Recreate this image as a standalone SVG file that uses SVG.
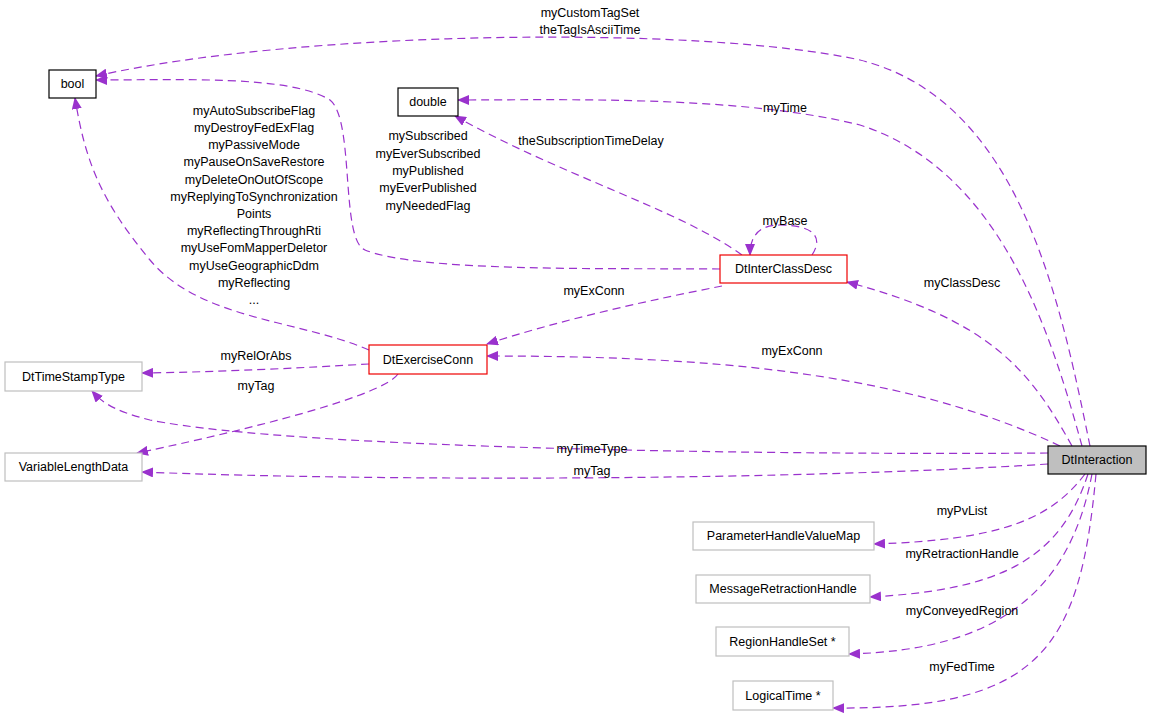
<svg xmlns="http://www.w3.org/2000/svg" width="1152" height="718" viewBox="0 0 1152 718">
<style>
text{font-family:"Liberation Sans",Arial,sans-serif;font-size:12.5px;fill:#000}
.n{fill:#fff;stroke:#000;stroke-width:1.2}
.r{fill:#fff;stroke:#e00;stroke-width:1.2}
.g{fill:#fff;stroke:#bfbfbf;stroke-width:1.2}
.e path{fill:none;stroke:#9a32cd;stroke-width:1.2;stroke-dasharray:8,5}
.m text{text-anchor:middle}
</style>
<defs><marker id="a" markerWidth="12" markerHeight="10" refX="11" refY="5" orient="auto" markerUnits="userSpaceOnUse"><path d="M0,0 L12,5 L0,10z" fill="#9a32cd"/></marker></defs>
<rect width="1152" height="718" fill="#fff"/>
<g class="e">
<path marker-end="url(#a)" d="M1090,446 C1060,300 1020,100 860,60 C700,25 300,30 96,76"/>
<path marker-end="url(#a)" d="M1082,446 C1050,330 1000,170 860,125 C740,95 560,100 458,100"/>
<path marker-end="url(#a)" d="M1072,446 C1030,370 990,320 847,282"/>
<path marker-end="url(#a)" d="M1060,446 C900,370 700,356 487,356"/>
<path marker-end="url(#a)" d="M1048,453 C800,455 300,450 150,420 C110,410 100,400 92,391"/>
<path marker-end="url(#a)" d="M1048,464 C800,480 400,482 142,472"/>
<path marker-end="url(#a)" d="M1085,474 C1050,520 1000,540 874,544"/>
<path marker-end="url(#a)" d="M1088,474 C1060,560 1000,590 870,597"/>
<path marker-end="url(#a)" d="M1092,474 C1070,590 1000,650 849,654"/>
<path marker-end="url(#a)" d="M1096,474 C1080,650 1040,710 833,708"/>
<path marker-end="url(#a)" d="M720,269 C600,268 420,272 365,250 C340,240 355,120 330,100 C290,75 180,80 96,80"/>
<path marker-end="url(#a)" d="M742,255 C680,210 560,175 455,116"/>
<path marker-end="url(#a)" d="M812,255 C825,235 810,225 780,225 C760,225 750,235 750,255"/>
<path marker-end="url(#a)" d="M722,286 C650,300 560,320 487,344"/>
<path marker-end="url(#a)" d="M369,350 C300,320 200,320 150,260 C100,200 85,160 75,98"/>
<path marker-end="url(#a)" d="M369,364 C300,368 220,372 142,373"/>
<path marker-end="url(#a)" d="M398,374 C380,400 200,440 137,453"/>
</g>
<g class="m">
<text x="590" y="17">myCustomTagSet</text><text x="590" y="34">theTagIsAsciiTime</text>
<text x="785" y="112">myTime</text>
<text x="591" y="145">theSubscriptionTimeDelay</text>
<text x="428" y="140">mySubscribed</text><text x="428" y="158">myEverSubscribed</text><text x="428" y="175">myPublished</text><text x="428" y="192">myEverPublished</text><text x="428" y="210">myNeededFlag</text>
<text x="254" y="115">myAutoSubscribeFlag</text><text x="254" y="132">myDestroyFedExFlag</text><text x="254" y="149">myPassiveMode</text><text x="254" y="166">myPauseOnSaveRestore</text><text x="254" y="184">myDeleteOnOutOfScope</text><text x="254" y="201">myReplyingToSynchronization</text><text x="254" y="218">Points</text><text x="254" y="235">myReflectingThroughRti</text><text x="254" y="252">myUseFomMapperDeletor</text><text x="254" y="270">myUseGeographicDdm</text><text x="254" y="287">myReflecting</text><text x="254" y="304">...</text>
<text x="785" y="225">myBase</text>
<text x="594" y="295">myExConn</text>
<text x="962" y="287">myClassDesc</text>
<text x="792" y="355">myExConn</text>
<text x="256" y="360">myRelOrAbs</text>
<text x="256" y="390">myTag</text>
<text x="592" y="453">myTimeType</text>
<text x="592" y="475">myTag</text>
<text x="962" y="515">myPvList</text>
<text x="962" y="558">myRetractionHandle</text>
<text x="962" y="615">myConveyedRegion</text>
<text x="962" y="671">myFedTime</text>
</g>
<g id="bool"><rect class="n" x="49" y="70" width="47" height="28"/><text x="72.5" y="88" text-anchor="middle">bool</text></g>
<g id="double"><rect class="n" x="398" y="88" width="60" height="28"/><text x="428" y="106" text-anchor="middle">double</text></g>
<g id="DtInterClassDesc"><rect class="r" x="720" y="255" width="127" height="28"/><text x="783.5" y="273" text-anchor="middle">DtInterClassDesc</text></g>
<g id="DtExerciseConn"><rect class="r" x="369" y="345" width="118" height="29"/><text x="428" y="364" text-anchor="middle">DtExerciseConn</text></g>
<g id="DtTimeStampType"><rect class="g" x="5" y="362" width="137" height="29"/><text x="73.5" y="381" text-anchor="middle">DtTimeStampType</text></g>
<g id="VariableLengthData"><rect class="g" x="5" y="453" width="137" height="28"/><text x="73.5" y="471" text-anchor="middle">VariableLengthData</text></g>
<g id="DtInteraction"><rect x="1048" y="446" width="98" height="28" fill="#bfbfbf" stroke="#000" stroke-width="1.2"/><text x="1097" y="464" text-anchor="middle">DtInteraction</text></g>
<g id="ParameterHandleValueMap"><rect class="g" x="693" y="522" width="181" height="28"/><text x="783.5" y="540" text-anchor="middle">ParameterHandleValueMap</text></g>
<g id="MessageRetractionHandle"><rect class="g" x="696" y="575" width="174" height="28"/><text x="783" y="593" text-anchor="middle">MessageRetractionHandle</text></g>
<g id="RegionHandleSet"><rect class="g" x="716" y="627" width="133" height="29"/><text x="782.5" y="646" text-anchor="middle">RegionHandleSet *</text></g>
<g id="LogicalTime"><rect class="g" x="733" y="681" width="100" height="29"/><text x="783" y="700" text-anchor="middle">LogicalTime *</text></g>
</svg>
